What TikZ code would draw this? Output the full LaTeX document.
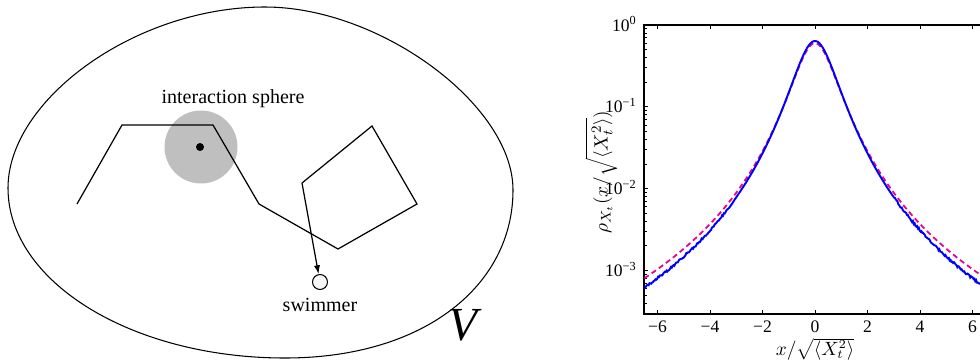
\documentclass[tikz,border=0pt]{standalone}
\usepackage{fontspec}
\setmainfont{Liberation Serif}
\usetikzlibrary{arrows.meta}

\begin{document}
\begin{tikzpicture}[x=0.02cm,y=-0.02cm,
  lbl/.style={font=\fontsize{11.4}{13}\selectfont,inner sep=0pt},
  ticklbl/.style={font=\fontsize{10}{12}\selectfont,inner sep=0pt},
  swimmer/.style={circle,draw,line width=0.6pt,fill=black!4,minimum size=0.3cm,inner sep=0pt}]

\useasboundingbox (0,0) rectangle (980,362);
\clip (0,0) rectangle (980,362);

% Volume
\coordinate (vt) at (265,7);
\coordinate (vr) at (513,190);
\coordinate (vb) at (285,358);
\coordinate (vl) at (8,188);
\draw[line width=0.6pt] (vt) .. controls (380,7) and (513,105) .. (vr)
  .. controls (513,285) and (425,358) .. (vb)
  .. controls (132,358) and (8,282) .. (vl)
  .. controls (8,100) and (135,7) .. (vt) -- cycle;
\node[font=\fontsize{27}{30}\selectfont\itshape,inner sep=0pt] (vol) at (463,325) {V};

% Interaction sphere
\fill[black!25] (201,147) circle (36.5);
\fill (200,147) circle (4);
\node[lbl] (isph) at (233,99) {interaction sphere};

% Walk
\coordinate (w1) at (77,204);
\coordinate (w2) at (122,125);
\coordinate (w3) at (213,125);
\coordinate (w4) at (259,204);
\coordinate (w5) at (338,249);
\coordinate (w6) at (417,204);
\coordinate (w7) at (372,126);
\coordinate (w8) at (302,183);
\draw[line width=0.7pt,line join=miter] (w1)--(w2)--(w3)--(w4)--(w5)--(w6)--(w7)--(w8);

% Swimmer
\node[swimmer] (swim) at (320,282) {};
\draw[line width=0.7pt,-{Latex[length=5pt,width=3.5pt]}] (w8)--(swim);
\node[lbl] (swimlbl) at (320,305) {swimmer};

% Frame
\draw[line width=0.8pt] (644,25) rectangle (986,314);

% x ticks
\foreach \t/\s in {-6/−6,-4/−4,-2/−2,0/0,2/2,4/4,6/6}{
  \draw[line width=0.5pt] ({815+26.25*\t},314)--++(0,-4);
  \draw[line width=0.5pt] ({815+26.25*\t},25)--++(0,4);
  \node[ticklbl,anchor=base] at ({815+26.25*\t},332) {\s};
}

% y ticks
\foreach \d/\s in {0/0,1/−1,2/−2,3/−3}{
  \draw[line width=0.5pt] (644,{25+81.8*\d})--++(4,0);
  \node[ticklbl,anchor=base east] at (637,{31+81.8*\d}) {10\textsuperscript{\s}};
}
\foreach \d in {0,1,2}
  \foreach \k in {2,...,9}
    \draw[line width=0.4pt] (644,{25+81.8*(\d+1-log10(\k))})--++(2.5,0);
\foreach \k in {3,...,9}
  \draw[line width=0.4pt] (644,{25+81.8*(4-log10(\k))})--++(2.5,0);

% Curves
\draw[magenta,line width=1pt,dash pattern=on 3pt off 2pt]
  plot[domain=-6.5:6.5,samples=160]
  ({815+26.25*\x},{25-81.8*(log10(0.6)-1.62*log10(1+(\x/0.85)^2))});
\draw[blue,line width=1.1pt]
  plot[domain=-6.5:6.5,samples=400]
  ({815+26.25*\x},{25-81.8*(log10(0.637)-1.72*log10(1+(\x/0.87)^2)+(abs(\x)>3)*0.014*rand)});

% Labels
\node[rotate=90,font=\fontsize{11}{13}\selectfont] (ylab) at (601,172)
  {$\rho_{X_t}(x/\sqrt{\langle X_t^2\rangle})$};
\node[font=\fontsize{10.5}{12}\selectfont,inner sep=0pt] (xlab) at (815,349)
  {$x/\sqrt{\langle X_t^2\rangle}$};

\end{tikzpicture}
\end{document}
